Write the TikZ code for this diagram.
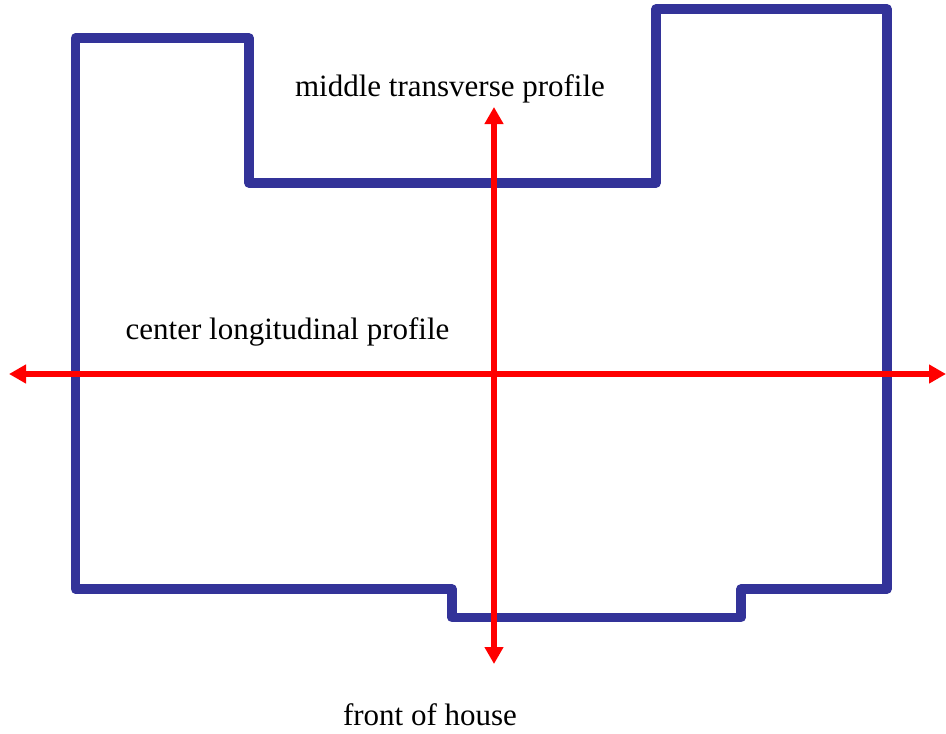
\documentclass[tikz,border=0pt]{standalone}
\usepackage{fontspec}
\setmainfont{Liberation Serif}
\usetikzlibrary{arrows.meta,positioning}
\definecolor{wallblue}{RGB}{51,51,153}
\tikzset{
  outline/.style={draw=wallblue,line width=9.5pt,line join=round,line cap=round},
  profile/.style={draw=red,line width=5.5pt,{Triangle[length=17pt,width=18pt]}-{Triangle[length=17pt,width=18pt]}},
  caption/.style={anchor=base,inner sep=0pt,font=\fontsize{31}{36}\selectfont}
}
\begin{document}
\begin{tikzpicture}[x=1pt,y=-1pt]
  \useasboundingbox (0,0) rectangle (946,734);
  % house outline
  \draw[outline] (75.5,38) -- (249,38) -- (249,183) -- (656,183) -- (656,9)
     -- (887,9) -- (887,589) -- (741,589) -- (741,617.5) -- (452,617.5)
     -- (452,589) -- (75.5,589) -- cycle;
  % ends of the profiles
  \coordinate (W) at (9,374);
  \coordinate (E) at (946,374);
  \coordinate (N) at (494,107);
  \coordinate (S) at (494,664);
  \draw[profile] (W) -- (E);
  \draw[profile] (S) -- (N);
  \node[caption] (mid)   at (450,96)  {middle transverse profile};
  \node[caption] (cen)   at (287.5,339) {center longitudinal profile};
  \node[caption] (front) at (430,725) {front of house};
\end{tikzpicture}
\end{document}
